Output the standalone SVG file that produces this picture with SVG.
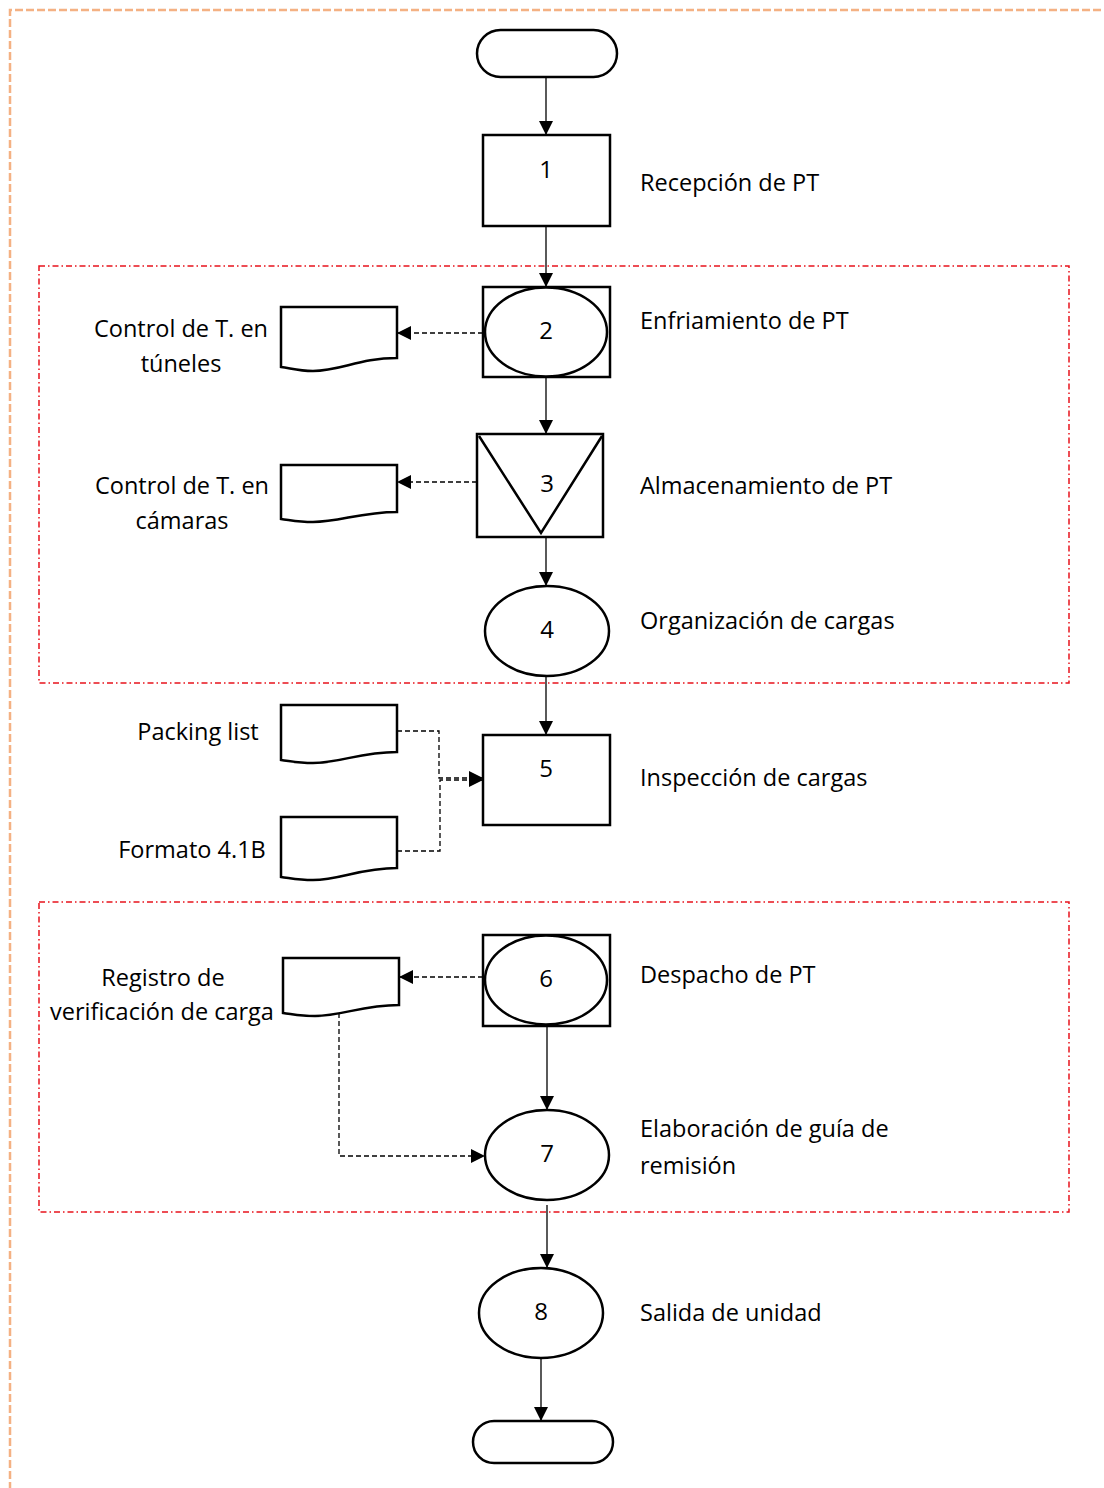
<svg xmlns="http://www.w3.org/2000/svg" width="1104" height="1488" viewBox="0 0 1104 1488">
  <style>
    .shape { fill: #fff; stroke: #000; stroke-width: 2.5; }
    .flow { fill: none; stroke: #000; stroke-width: 1.3; }
    .dash { fill: none; stroke: #000; stroke-width: 1.3; stroke-dasharray: 5 3; }
    .zone { fill: none; stroke: #e8131d; stroke-width: 1.5; stroke-dasharray: 6 3 1.5 3; }
    .frame { fill: none; stroke: #f4b183; stroke-width: 2.5; stroke-dasharray: 8 3; }
    text { font-family: "Open Sans", "Noto Sans", "DejaVu Sans", sans-serif; font-size: 23.5px; fill: #000; }
    .num { text-anchor: middle; font-size: 24px; }
    .lbl { text-anchor: middle; }
  </style>
  <defs>
    <marker id="arrowBig" viewBox="0 0 10 10" refX="10" refY="5" markerWidth="14" markerHeight="14" markerUnits="userSpaceOnUse" orient="auto">
      <path d="M0,0 L10,5 L0,10 Z" fill="#000"/>
    </marker>
  </defs>

  <!-- outer page frame -->
  <path class="frame" d="M10,1490 L10,10 L1106,10"/>

  <!-- grouping zones -->
  <rect class="zone" x="39" y="266" width="1030" height="417"/>
  <rect class="zone" x="39" y="902" width="1030" height="310"/>

  <!-- connectors -->
  <g id="connectors">
    <line class="flow" x1="546" y1="77" x2="546" y2="135" marker-end="url(#arrowBig)"/>
    <line class="flow" x1="546" y1="226" x2="546" y2="287" marker-end="url(#arrowBig)"/>
    <line class="flow" x1="546" y1="378" x2="546" y2="434" marker-end="url(#arrowBig)"/>
    <line class="flow" x1="546" y1="537" x2="546" y2="586" marker-end="url(#arrowBig)"/>
    <line class="flow" x1="546" y1="676" x2="546" y2="735" marker-end="url(#arrowBig)"/>
    <line class="flow" x1="547" y1="1026" x2="547" y2="1110" marker-end="url(#arrowBig)"/>
    <line class="flow" x1="547" y1="1205" x2="547" y2="1268" marker-end="url(#arrowBig)"/>
    <line class="flow" x1="541" y1="1358" x2="541" y2="1421" marker-end="url(#arrowBig)"/>

    <line class="dash" x1="483" y1="333" x2="397" y2="333" marker-end="url(#arrowBig)"/>
    <line class="dash" x1="477" y1="482" x2="397" y2="482" marker-end="url(#arrowBig)"/>
    <polyline class="dash" points="397,731 439,731 439,778 483,778" marker-end="url(#arrowBig)"/>
    <polyline class="dash" points="397,851 440,851 440,780 483,780" marker-end="url(#arrowBig)"/>
    <line class="dash" x1="483" y1="977" x2="399" y2="977" marker-end="url(#arrowBig)"/>
    <polyline class="dash" points="339,1013 339,1156 485,1156" marker-end="url(#arrowBig)"/>
  </g>

  <!-- start terminator -->
  <g id="start">
    <rect class="shape" x="477" y="30" width="140" height="47" rx="23.5"/>
  </g>

  <g id="n1">
    <rect class="shape" x="483" y="135" width="127" height="91"/>
    <text class="num" x="546" y="178">1</text>
    <text x="640" y="191">Recepción de PT</text>
  </g>

  <g id="n2">
    <rect class="shape" x="483" y="287" width="127" height="90"/>
    <ellipse class="shape" cx="546" cy="332" rx="61" ry="44.5"/>
    <text class="num" x="546" y="339">2</text>
    <text x="640" y="329">Enfriamiento de PT</text>
  </g>

  <g id="n3">
    <rect class="shape" x="477" y="434" width="126" height="103"/>
    <polyline class="shape" points="479,436 541,533 602,436" fill="none"/>
    <text class="num" x="547" y="492">3</text>
    <text x="640" y="494">Almacenamiento de PT</text>
  </g>

  <g id="n4">
    <ellipse class="shape" cx="547" cy="631" rx="62" ry="45"/>
    <text class="num" x="547" y="638">4</text>
    <text x="640" y="629">Organización de cargas</text>
  </g>

  <g id="n5">
    <rect class="shape" x="483" y="735" width="127" height="90"/>
    <text class="num" x="546" y="777">5</text>
    <text x="640" y="786">Inspección de cargas</text>
  </g>

  <g id="n6">
    <rect class="shape" x="483" y="935" width="127" height="91"/>
    <ellipse class="shape" cx="546" cy="980" rx="61" ry="44.5"/>
    <text class="num" x="546" y="987">6</text>
    <text x="640" y="983">Despacho de PT</text>
  </g>

  <g id="n7">
    <ellipse class="shape" cx="547" cy="1155" rx="62" ry="45"/>
    <text class="num" x="547" y="1162">7</text>
    <text x="640" y="1137">Elaboración de guía de</text>
    <text x="640" y="1174">remisión</text>
  </g>

  <g id="n8">
    <ellipse class="shape" cx="541" cy="1313" rx="62" ry="45"/>
    <text class="num" x="541" y="1320">8</text>
    <text x="640" y="1321">Salida de unidad</text>
  </g>

  <!-- end terminator -->
  <g id="end">
    <rect class="shape" x="473" y="1421" width="140" height="42" rx="21"/>
  </g>

  <!-- documents -->
  <g id="doc-tuneles">
    <path class="shape" d="M281,307 H397 V358 C360,358 340,371 313,371 C298,371 290,368 281,367 Z"/>
    <text class="lbl" x="181" y="337">Control de T. en</text>
    <text class="lbl" x="181" y="372">túneles</text>
  </g>

  <g id="doc-camaras">
    <path class="shape" d="M281,465 H397 V512 C360,512 340,522 313,522 C298,522 290,520 281,519 Z"/>
    <text class="lbl" x="182" y="494">Control de T. en</text>
    <text class="lbl" x="182" y="529">cámaras</text>
  </g>

  <g id="doc-packing">
    <path class="shape" d="M281,705 H397 V752 C360,752 340,763 313,763 C298,763 290,761 281,760 Z"/>
    <text class="lbl" x="198" y="740">Packing list</text>
  </g>

  <g id="doc-formato">
    <path class="shape" d="M281,817 H397 V868 C360,868 340,880 313,880 C298,880 290,878 281,877 Z"/>
    <text class="lbl" x="192" y="858">Formato 4.1B</text>
  </g>

  <g id="doc-registro">
    <path class="shape" d="M283,958 H399 V1005 C362,1005 342,1016 315,1016 C300,1016 292,1014 283,1013 Z"/>
    <text class="lbl" x="163" y="986">Registro de</text>
    <text class="lbl" x="162" y="1020">verificación de carga</text>
  </g>
</svg>
